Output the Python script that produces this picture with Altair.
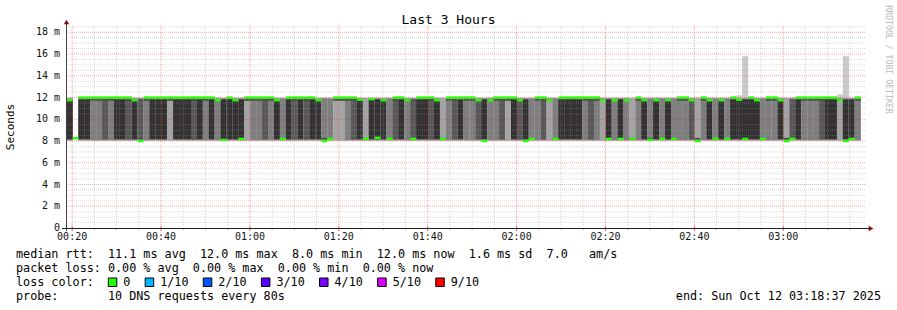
import altair as alt
import pandas as pd

# ---------------- data ----------------
T_START = 18 + 37 / 60          # 00:18:37 in minutes after midnight
T_END = T_START + 180           # 03:18:37
STEP = 80 / 60                  # 80 s step
FIRST_STEP = 18.75              # start of first consolidated step

# number of the 10 pings (per step) that landed in the low (~8 ms) cluster
LOW_COUNT = [
    5, 10, 5, 5, 3, 3, 4, 3, 5, 5, 4, 5, 6, 3, 5, 5, 5, 2, 5, 5,
    5, 4, 5, 3, 5, 3, 5, 5, 5, 5, 2, 3, 3, 4, 3, 5, 7, 5, 4, 5,
    4, 5, 5, 7, 7, 2, 2, 3, 4, 5, 8, 5, 5, 5, 7, 4, 5, 3, 6, 5,
    5, 4, 5, 8, 3, 4, 5, 3, 3, 4, 5, 3, 3, 4, 2, 5, 4, 5, 7, 3,
    4, 2, 7, 5, 5, 5, 5, 3, 4, 3, 2, 5, 3, 5, 3, 8, 3, 5, 7, 5,
    7, 5, 7, 3, 3, 4, 8, 3, 5, 7, 5, 7, 5, 5, 5, 5, 5, 7, 3, 3,
    5, 8, 6, 5, 3, 3, 3, 4, 5, 5, 2, 5, 5, 3,
]

# median rtt per step (ms)
MEDIAN = [
    11.75, 8.25, 12.0, 12.0, 12.0, 12.0, 12.0, 12.0, 12.0, 12.0,
    12.0, 11.75, 8.0, 12.0, 12.0, 12.0, 12.0, 12.0, 12.0, 12.0,
    12.0, 12.0, 12.0, 12.0, 12.0, 11.75, 8.1, 12.0, 11.75, 8.2,
    12.0, 12.0, 12.0, 12.0, 12.0, 11.75, 8.2, 12.0, 12.0, 12.0,
    12.0, 12.0, 11.75, 8.0, 8.2, 12.0, 12.0, 12.0, 12.0, 11.8,
    8.2, 11.85, 8.3, 11.75, 8.2, 12.0, 12.0, 11.75, 8.2, 12.0,
    12.0, 12.0, 11.75, 8.2, 12.0, 12.0, 12.0, 12.0, 12.0, 11.75,
    8.0, 11.75, 12.0, 12.0, 12.0, 12.0, 11.75, 8.0, 8.2, 12.0,
    12.0, 11.75, 8.2, 12.0, 12.0, 12.0, 12.0, 12.0, 12.0, 12.0,
    11.75, 8.2, 11.75, 8.2, 11.75, 8.2, 12.0, 11.75, 8.1, 11.75,
    8.2, 11.75, 8.2, 12.0, 12.0, 11.75, 8.0, 12.0, 11.75, 8.2,
    11.75, 8.2, 12.0, 11.8, 8.2, 12.0, 11.75, 8.2, 12.0, 12.0,
    11.75, 8.0, 8.2, 12.0, 12.0, 12.0, 12.0, 12.0, 12.0, 12.0,
    11.75, 8.0, 8.2, 12.0,
]

# slowest ping of a few steps that reached above the 12 ms cluster
MAX_PING = {113: 12.2, 114: 15.8, 130: 12.3, 131: 15.8}

LOW_CLUSTER = [8.0, 8.05, 8.1, 8.15, 8.2, 8.25, 8.28, 8.3, 8.35, 8.4]
HIGH_CLUSTER = [11.6, 11.65, 11.7, 11.72, 11.75, 11.8, 11.85, 11.9, 11.95, 12.0]
SMOKE_GREYS = ["#cacaca", "#a4a4a4", "#7e7e7e", "#585858", "#323232"]

X_MAJOR = [20, 40, 60, 80, 100, 120, 140, 160, 180]
X_LABELS = ["00:20", "00:40", "01:00", "01:20", "01:40", "02:00", "02:20", "02:40", "03:00"]
X_MINOR = [m for m in range(20, 200, 5) if m % 20 != 0 and m < T_END]
Y_TICKS = [0, 2, 4, 6, 8, 10, 12, 14, 16, 18]
Y_LABELS = ["0", "2 m", "4 m", "6 m", "8 m", "10 m", "12 m", "14 m", "16 m", "18 m"]
Y_MAJOR = Y_TICKS[1:]
Y_MINOR = [v / 2 for v in range(1, 38) if v % 4 != 0]

TITLE = "Last 3 Hours"
Y_TITLE = "Seconds"
LINE_RTT = "median rtt:  11.1 ms avg  12.0 ms max  8.0 ms min  12.0 ms now  1.6 ms sd  7.0   am/s"
LINE_LOSS = "packet loss: 0.00 % avg  0.00 % max  0.00 % min  0.00 % now"
LINE_COLOR = "loss color:"
LINE_PROBE = "probe:       10 DNS requests every 80s"
LINE_END = "end: Sun Oct 12 03:18:37 2025"
WATERMARK = "RRDTOOL / TOBI OETIKER"
LOSS_LABELS = ["0", "1/10", "2/10", "3/10", "4/10", "5/10", "9/10"]
LOSS_COLORS = ["#26ff00", "#00b8ff", "#0059ff", "#5e00ff", "#7e00ff", "#dd00ff", "#ff0000"]

# ---------------- tables ----------------
smoke_rows, median_rows = [], []
for i, (k, med) in enumerate(zip(LOW_COUNT, MEDIAN)):
    t0 = FIRST_STEP + i * STEP
    t1 = t0 + STEP
    if 0 < k < 10:
        pings = LOW_CLUSTER[:k] + HIGH_CLUSTER[k:]
        if i in MAX_PING:
            pings[-1] = MAX_PING[i]
        for j in range(5):
            lo, hi = pings[j], pings[9 - j]
            if hi > lo:
                smoke_rows.append(dict(order=i * 10 + j, t0=t0, t1=t1 + 0.02, lo=lo, hi=hi,
                                       c=SMOKE_GREYS[j]))
    median_rows.append(dict(t0=t0, t1=t1 + 0.02, lo=med - 0.11, hi=med + 0.11))

smoke = pd.DataFrame(smoke_rows)
medians = pd.DataFrame(median_rows)

FONT = "DejaVu Sans Mono"
NBSP = "\u00a0"
W, H = 800, 202
xs = alt.Scale(domain=[T_START, T_END], nice=False, zero=False)
ys = alt.Scale(domain=[0, 18.58], nice=False, zero=False)


def X(f):
    return alt.X(f, scale=xs, axis=None)


def Y(f):
    return alt.Y(f, scale=ys, axis=None)


smoke_layer = alt.Chart(smoke).mark_rect().encode(
    x=X("t0:Q"), x2="t1:Q", y=Y("lo:Q"), y2="hi:Q",
    color=alt.Color("c:N", scale=None), order="order:Q")

median_layer = alt.Chart(medians).mark_rect(color="#26ff00").encode(
    x=X("t0:Q"), x2="t1:Q", y=Y("lo:Q"), y2="hi:Q")


def vgrid(vals, color, op):
    return alt.Chart(pd.DataFrame({"v": vals})).mark_rule(
        color=color, opacity=op, strokeDash=[1, 1], strokeWidth=1).encode(
        x=X("v:Q"), y=alt.value(0), y2=alt.value(H))


def hgrid(vals, color, op):
    return alt.Chart(pd.DataFrame({"v": vals})).mark_rule(
        color=color, opacity=op, strokeDash=[1, 1], strokeWidth=1).encode(
        y=Y("v:Q"), x=alt.value(0), x2=alt.value(W))


def xticks(vals, color, y0, y1):
    return alt.Chart(pd.DataFrame({"v": vals})).mark_rule(color=color, strokeWidth=1).encode(
        x=X("v:Q"), y=alt.value(y0), y2=alt.value(y1))


def text(s, x, y, size=11.75, color="#000", align="left", baseline="alphabetic", angle=0):
    return alt.Chart(pd.DataFrame({"t": [s.replace(" ", NBSP)]})).mark_text(
        font=FONT, fontSize=size, color=color, align=align, baseline=baseline, angle=angle).encode(
        text="t:N", x=alt.value(x), y=alt.value(y))


# tick labels, placed through the scales
x_labels = alt.Chart(pd.DataFrame({"v": X_MAJOR, "t": X_LABELS})).mark_text(
    font=FONT, fontSize=10, color="#111", baseline="top", align="center").encode(
    x=X("v:Q"), y=alt.value(H + 4), text="t:N")
y_labels = alt.Chart(pd.DataFrame({"v": Y_TICKS, "t": [s.replace(" ", NBSP) for s in Y_LABELS]})).mark_text(
    font=FONT, fontSize=10, color="#111", baseline="middle", align="right").encode(
    y=Y("v:Q"), x=alt.value(-6), text="t:N")

layers = [smoke_layer,
          vgrid(X_MINOR, "#a0a0a0", 0.38), hgrid(Y_MINOR, "#a0a0a0", 0.38),
          vgrid(X_MAJOR, "#ff0000", 0.35), hgrid(Y_MAJOR, "#ff0000", 0.35),
          median_layer,
          xticks(X_MINOR, "#b0b0b0", H, H + 2), xticks(X_MAJOR, "#e06060", H - 2, H + 3),
          x_labels, y_labels]

# axis lines and arrows
layers.append(alt.Chart(pd.DataFrame({"a": [0]})).mark_rule(color="#404040").encode(
    x=alt.value(0.5), y=alt.value(H + 3), y2=alt.value(-3)))
layers.append(alt.Chart(pd.DataFrame({"a": [0]})).mark_rule(color="#202020").encode(
    x=alt.value(-4), x2=alt.value(W + 3), y=alt.value(H + 0.5)))
layers.append(alt.Chart(pd.DataFrame({"a": [0]})).mark_point(
    shape="triangle-up", filled=True, color="#8b1010", size=30, opacity=1).encode(
    x=alt.value(0.5), y=alt.value(-4)))
layers.append(alt.Chart(pd.DataFrame({"a": [0]})).mark_point(
    shape="triangle-right", filled=True, color="#8b1010", size=30, opacity=1).encode(
    x=alt.value(W + 5), y=alt.value(H + 0.5)))

# titles / texts (pixel offsets relative to plot origin at (66, 26))
OX, OY = 66, 26
layers.append(text(TITLE, 448.5 - OX, 24 - OY, size=13, align="center"))
layers.append(text(Y_TITLE, 11 - OX, 127 - OY, size=11, align="center", baseline="middle", angle=270))
layers.append(text(WATERMARK, 888 - OX, 59.5 - OY, size=8.2, color="#bbbbbb", align="center",
                   baseline="middle", angle=90))
layers.append(text(LINE_RTT, 16 - OX, 258 - OY))
layers.append(text(LINE_LOSS, 16 - OX, 272 - OY))
layers.append(text(LINE_COLOR, 16 - OX, 286 - OY))
layers.append(text(LINE_PROBE, 16 - OX, 300 - OY))
layers.append(text(LINE_END, 881 - OX, 300 - OY, align="right"))

CHAR = 7.08
sx = 108.3
for lab, col in zip(LOSS_LABELS, LOSS_COLORS):
    layers.append(alt.Chart(pd.DataFrame({"l": [lab]})).mark_rect(
        fill=col, stroke="#000", strokeWidth=1).encode(
        x=alt.value(sx - OX), x2=alt.value(sx + 8.5 - OX),
        y=alt.value(278 - OY), y2=alt.value(286.5 - OY)))
    layers.append(text(lab, sx + 15 - OX, 286 - OY))
    sx = sx + 15 + len(lab) * CHAR + 14.8

chart = alt.layer(*layers).properties(
    width=W, height=H,
    autosize=alt.AutoSizeParams(type="none"),
    padding={"left": OX, "top": OY, "right": 897 - OX - W, "bottom": 310 - OY - H},
    background="white",
).configure_view(stroke=None)

chart.save("out.html", embed_options={"renderer": "svg", "actions": False})
